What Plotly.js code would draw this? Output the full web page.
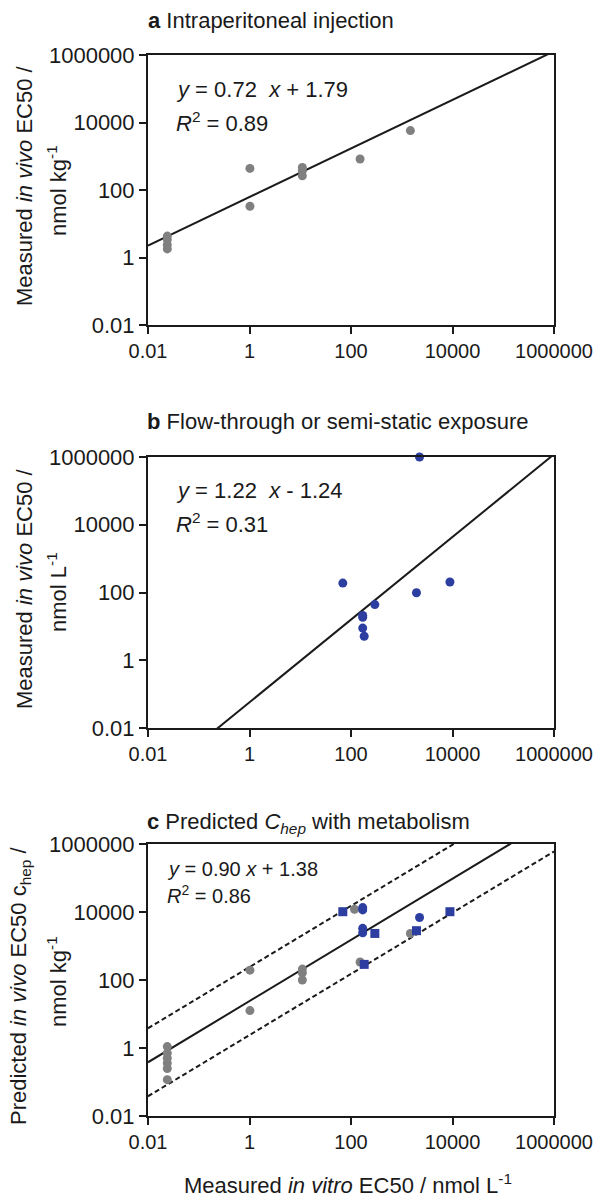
<!DOCTYPE html>
<html>
<head>
<meta charset="utf-8">
<script src="https://cdn.plot.ly/plotly-3.0.1.min.js"></script>
<style>html,body{margin:0;padding:0;background:#fff;}#chart{width:600px;height:1200px;}</style>
</head>
<body>
<div id="chart"></div>
<script>
// ---- data ----
const tickVals = [0.01, 1, 100, 10000, 1000000];
const tickLabels = ['0.01', '1', '100', '10000', '1000000'];

// panel a: intraperitoneal injection
const aX = [0.024, 0.024, 0.024, 0.024, 1.02, 1.02, 11, 11, 11, 151, 1480];
const aY = [4.3, 3.4, 2.4, 1.8, 437, 33, 468, 372, 263, 832, 5750];

// panel b: flow-through or semi-static exposure
const bX = [69, 2240, 8900, 1950, 295, 170, 170, 170, 182];
const bY = [190, 1000000, 204, 98, 44, 21, 18.6, 8.9, 5.1];

// panel c: predicted C_hep with metabolism
const cGrayX = [0.024, 0.024, 0.024, 0.024, 0.024, 0.024, 1.02, 1.02, 11, 11, 11, 117, 151, 1480];
const cGrayY = [1.1, 0.7, 0.5, 0.36, 0.25, 0.117, 195, 12.6, 209, 162, 100, 12000, 339, 2340];
const cBlueCircX = [170, 170, 170, 170, 2240];
const cBlueCircY = [13500, 11500, 3300, 2450, 6900];
const cBlueSqX = [69, 295, 182, 1950, 8900];
const cBlueSqY = [10200, 2340, 288, 2820, 10200];

// regression fits (log10 y = slope * log10 x + intercept)
const fitSlope = [0.72, 1.22, 0.90];
const fitIntercept = [1.79, -1.24, 1.38];
const bandOffset = 1; // dashed lines at +/- one log unit (panel c)
const fitXRange = [0.01, 1000000];

// ---- styling ----
const GRAY = 'rgb(128,128,128)';
const BLUE = 'rgb(44,62,160)';
const INK = '#1a1a1a';
const FONT = 'Liberation Sans, Arial, Helvetica, sans-serif';

function fitLine(i, off, xa, ya, dash) {
  const ys = fitXRange.map(x => Math.pow(10, fitSlope[i] * Math.log10(x) + fitIntercept[i] + off));
  return {x: fitXRange, y: ys, xaxis: xa, yaxis: ya, mode: 'lines', type: 'scatter',
    line: {color: INK, width: 2, dash: dash || 'solid'}, hoverinfo: 'skip', showlegend: false};
}
function pts(x, y, xa, ya, color, symbol, size) {
  return {x: x, y: y, xaxis: xa, yaxis: ya, mode: 'markers', type: 'scatter', cliponaxis: false,
    marker: {color: color, size: size, symbol: symbol, line: {width: 0}}, showlegend: false};
}

const traces = [
  fitLine(0, 0, 'x', 'y'),
  pts(aX, aY, 'x', 'y', GRAY, 'circle', 9),
  fitLine(1, 0, 'x2', 'y2'),
  pts(bX, bY, 'x2', 'y2', BLUE, 'circle', 9),
  fitLine(2, 0, 'x3', 'y3'),
  fitLine(2, bandOffset, 'x3', 'y3', '5px,3px'),
  fitLine(2, -bandOffset, 'x3', 'y3', '5px,3px'),
  pts(cGrayX, cGrayY, 'x3', 'y3', GRAY, 'circle', 9),
  pts(cBlueCircX, cBlueCircY, 'x3', 'y3', BLUE, 'circle', 9),
  pts(cBlueSqX, cBlueSqY, 'x3', 'y3', BLUE, 'square', 9)
];

const W = 600, H = 1200;
const px = v => v / W;
const py = v => 1 - v / H;
const xDom = [px(148), px(554)];
const yDoms = [[py(325), py(55)], [py(728), py(457)], [py(1116), py(844)]];

function xAxis(anchor) {
  return {domain: xDom, anchor: anchor, type: 'log', range: [-2, 6], tickvals: tickVals, ticktext: tickLabels,
    showgrid: false, zeroline: false, showline: true, mirror: true, linecolor: INK, linewidth: 2,
    ticks: 'outside', ticklen: 7, tickwidth: 2, tickcolor: INK,
    tickfont: {family: FONT, size: 20, color: INK}, fixedrange: true};
}
function yAxis(anchor, dom) {
  return {domain: dom, anchor: anchor, type: 'log', range: [-2, 6], tickvals: tickVals, ticktext: tickLabels,
    showgrid: false, zeroline: false, showline: true, mirror: true, linecolor: INK, linewidth: 2,
    ticks: 'outside', ticklen: 7, tickwidth: 2, tickcolor: INK,
    tickfont: {family: FONT, size: 22, color: INK}, fixedrange: true};
}

function ann(text, x, y, opts) {
  return Object.assign({text: text, x: px(x), y: py(y), xref: 'paper', yref: 'paper', showarrow: false,
    xanchor: 'left', yanchor: 'middle', font: {family: FONT, size: 22, color: INK}}, opts || {});
}
function vAnn(text, x, y) {
  return ann(text, x, y, {xanchor: 'center', yanchor: 'middle', textangle: -90});
}
const smallFont = {family: FONT, size: 20, color: INK};

const annotations = [
  // panel titles
  ann('<b>a</b> Intraperitoneal injection', 146, 21),
  ann('<b>b</b> Flow-through or semi-static exposure', 145, 421),
  ann('<b>c</b> Predicted <i>C<sub>hep</sub></i> with metabolism', 145, 823),
  // equations
  ann('<i>y</i> = 0.72  <i>x</i> + 1.79', 174, 89),
  ann('<i>R</i><sup>2</sup> = 0.89', 174, 122),
  ann('<i>y</i> = 1.22  <i>x</i> - 1.24', 174, 490),
  ann('<i>R</i><sup>2</sup> = 0.31', 174, 523),
  ann('<i>y</i> = 0.90 <i>x</i> + 1.38', 165, 869, {font: smallFont}),
  ann('<i>R</i><sup>2</sup> = 0.86', 165, 894, {font: smallFont}),
  // y-axis titles
  vAnn('Measured <i>in vivo</i> EC50 /', 24, 186),
  vAnn('nmol kg<sup>-1</sup>', 57, 191),
  vAnn('Measured <i>in vivo</i> EC50 /', 24, 589),
  vAnn('nmol L<sup>-1</sup>', 57, 592),
  vAnn('Predicted <i>in vivo</i> EC50 c<sub>hep</sub> /', 20, 986),
  vAnn('nmol kg<sup>-1</sup>', 57, 982),
  // shared x-axis title
  ann('Measured <i>in vitro</i> EC50 / nmol L<sup>-1</sup>', 348, 1184, {xanchor: 'center'})
];

const layout = {
  width: W, height: H,
  margin: {l: 0, r: 0, t: 0, b: 0},
  paper_bgcolor: '#fff', plot_bgcolor: '#fff',
  showlegend: false,
  font: {family: FONT, color: INK},
  xaxis: xAxis('y'), yaxis: yAxis('x', yDoms[0]),
  xaxis2: xAxis('y2'), yaxis2: yAxis('x2', yDoms[1]),
  xaxis3: xAxis('y3'), yaxis3: yAxis('x3', yDoms[2]),
  annotations: annotations
};

Plotly.newPlot('chart', traces, layout, {staticPlot: true, displayModeBar: false});
</script>
</body>
</html>
